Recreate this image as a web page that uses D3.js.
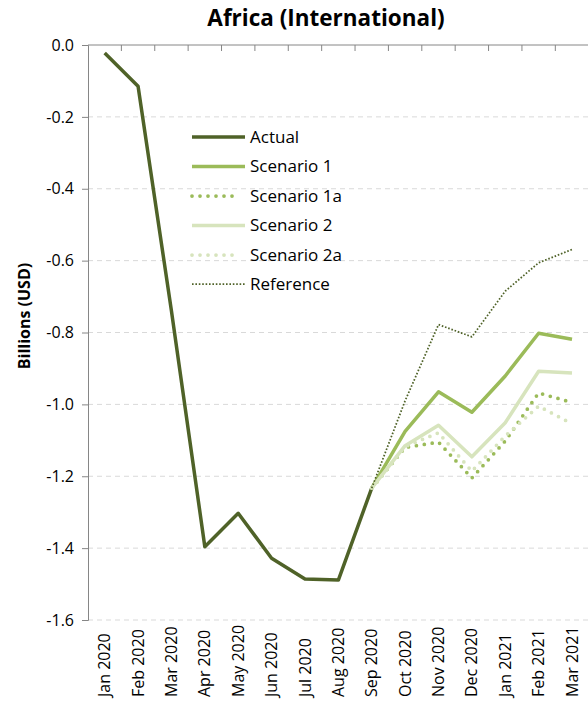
<!DOCTYPE html>
<html>
<head>
<meta charset="utf-8">
<script src="https://cdn.jsdelivr.net/npm/d3@7"></script>
<style>
  html, body { margin: 0; padding: 0; background: #fff; }
  svg { display: block; font-family: "Open Sans", "DejaVu Sans", sans-serif; }
</style>
</head>
<body>
<svg id="chart" width="588" height="714"></svg>
<script>
// Monthly categories
const months = ["Jan 2020", "Feb 2020", "Mar 2020", "Apr 2020", "May 2020", "Jun 2020",
  "Jul 2020", "Aug 2020", "Sep 2020", "Oct 2020", "Nov 2020", "Dec 2020",
  "Jan 2021", "Feb 2021", "Mar 2021"];

// Series values, billions of USD (null = no value that month)
const actual     = [-0.022, -0.115, -0.74, -1.396, -1.303, -1.428, -1.486, -1.489, -1.233, null, null, null, null, null, null];
const scenario1  = [null, null, null, null, null, null, null, null, -1.233, -1.075, -0.965, -1.022, -0.921, -0.802, -0.819];
const scenario1a = [null, null, null, null, null, null, null, null, -1.233, -1.12, -1.105, -1.205, -1.102, -0.968, -0.995];
const scenario2  = [null, null, null, null, null, null, null, null, -1.233, -1.115, -1.058, -1.146, -1.051, -0.908, -0.913];
const scenario2a = [null, null, null, null, null, null, null, null, -1.233, -1.118, -1.079, -1.186, -1.088, -1.005, -1.054];
const reference  = [null, null, null, null, null, null, null, null, -1.233, -0.99, -0.778, -0.812, -0.685, -0.606, -0.569];

// Value-axis ticks
const yTicks = [0, -0.2, -0.4, -0.6, -0.8, -1.0, -1.2, -1.4, -1.6];

const olive = "#4F6228", green = "#9BBB59", pale = "#D7E4BD";

const series = [
  { name: "Actual",      values: actual,     color: olive, width: 3.5,  dash: null,    cap: "butt" },
  { name: "Scenario 1",  values: scenario1,  color: green, width: 3.5,  dash: null,    cap: "butt" },
  { name: "Scenario 1a", values: scenario1a, color: green, width: 3.75, dash: "0 8",   cap: "round" },
  { name: "Scenario 2",  values: scenario2,  color: pale,  width: 3.5,  dash: null,    cap: "butt" },
  { name: "Scenario 2a", values: scenario2a, color: pale,  width: 3.75, dash: "0 8",   cap: "round" },
  { name: "Reference",   values: reference,  color: olive, width: 1.75, dash: "1.6 1.8", cap: "butt" }
];

const svg = d3.select("#chart");
const plot = { left: 88, right: 588.7, top: 45, bottom: 620 };

const x = d3.scaleBand().domain(months).range([plot.left, plot.right]).padding(0);
const y = d3.scaleLinear().domain([-1.6, 0]).range([plot.bottom, plot.top]);
const cx = m => x(m) + x.bandwidth() / 2;

// Title
svg.append("text")
  .attr("x", 326).attr("y", 26)
  .attr("text-anchor", "middle")
  .attr("font-size", 22.5).attr("font-weight", "bold").attr("fill", "#000")
  .text("Africa (International)");

// Dashed horizontal gridlines
svg.append("g").selectAll("line")
  .data(yTicks.filter(t => t !== 0))
  .join("line")
  .attr("x1", plot.left).attr("x2", plot.right)
  .attr("y1", d => y(d)).attr("y2", d => y(d))
  .attr("stroke", "#D9D9D9").attr("stroke-width", 1)
  .attr("stroke-dasharray", "5,4");

// Value axis
const yAxis = svg.append("g")
  .attr("transform", `translate(${plot.left},0)`)
  .call(d3.axisLeft(y).tickValues(yTicks).tickFormat(d3.format(".1f")).tickSize(6).tickPadding(8));
yAxis.select(".domain").attr("stroke", "#868686");
yAxis.selectAll(".tick line").attr("stroke", "#868686");
yAxis.selectAll(".tick text")
  .attr("font-size", 16).attr("fill", "#000")
  .attr("font-family", "\"Open Sans\", sans-serif")
  .text(d => d3.format(".1f")(d).replace("−", "-"));

// Category axis along the zero line, ticks between categories
const xAxisLine = svg.append("g");
xAxisLine.append("line")
  .attr("x1", plot.left).attr("x2", plot.right)
  .attr("y1", y(0)).attr("y2", y(0))
  .attr("stroke", "#868686");
xAxisLine.selectAll("line.tick")
  .data(months.slice(1))
  .join("line").attr("class", "tick")
  .attr("x1", d => x(d)).attr("x2", d => x(d))
  .attr("y1", y(0)).attr("y2", y(0) + 6)
  .attr("stroke", "#868686");

// Category labels at the bottom, rotated
svg.append("g").selectAll("text")
  .data(months)
  .join("text")
  .attr("transform", d => `translate(${cx(d)},697) rotate(-90)`)
  .attr("dy", "0.35em")
  .attr("text-anchor", "start")
  .attr("font-size", 16).attr("fill", "#000")
  .text(d => d);

// Value axis title
svg.append("text")
  .attr("transform", "translate(24,316) rotate(-90)")
  .attr("text-anchor", "middle").attr("dy", "0.35em")
  .attr("font-size", 16).attr("font-weight", "bold").attr("fill", "#000")
  .text("Billions (USD)");

// Series lines
const line = d3.line()
  .defined(d => d.v !== null)
  .x(d => cx(d.m))
  .y(d => y(d.v));

svg.append("g").selectAll("path")
  .data(series)
  .join("path")
  .attr("fill", "none")
  .attr("stroke", d => d.color)
  .attr("stroke-width", d => d.width)
  .attr("stroke-dasharray", d => d.dash)
  .attr("stroke-linecap", d => d.cap)
  .attr("stroke-linejoin", "round")
  .attr("d", d => line(d.values.map((v, i) => ({ m: months[i], v }))));

// Legend
const legendRows = [137, 166.5, 196, 225.5, 255, 284];
const legend = svg.append("g").selectAll("g")
  .data(series)
  .join("g")
  .attr("transform", (d, i) => `translate(192,${legendRows[i]})`);
legend.append("line")
  .attr("x1", 0).attr("x2", d => d.dash === "0 8" ? 46 : 53)
  .attr("y1", 0).attr("y2", 0)
  .attr("stroke", d => d.color)
  .attr("stroke-width", d => d.width)
  .attr("stroke-dasharray", d => d.dash)
  .attr("stroke-linecap", d => d.cap);
legend.append("text")
  .attr("x", 58).attr("dy", "0.35em")
  .attr("font-size", 17).attr("fill", "#000")
  .text(d => d.name);
</script>
</body>
</html>
